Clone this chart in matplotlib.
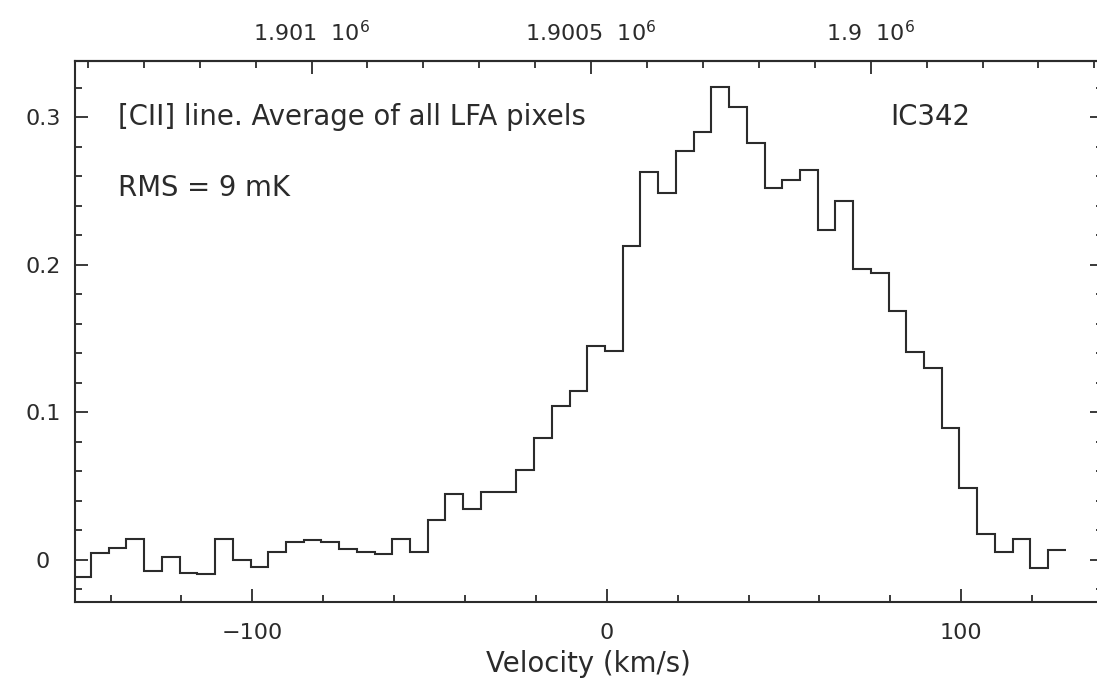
import numpy as np
import matplotlib
matplotlib.use('Agg')
import matplotlib.pyplot as plt
from matplotlib.ticker import FixedLocator, MultipleLocator, FuncFormatter

# channel velocities (km/s) and averaged [CII] intensity (K)
vel = [-148, -143, -138, -133, -128, -123, -118, -113, -108, -103,
       -98, -93, -88, -83, -78, -73, -68, -63, -58, -53,
       -48, -43, -38, -33, -28, -23, -18, -13, -8, -3,
       2, 7, 12, 17, 22, 27, 32, 37, 42, 47,
       52, 57, 62, 67, 72, 77, 82, 87, 92, 97,
       102, 107, 112, 117, 122, 127]
tmb = [-0.0117, 0.0045, 0.0079, 0.0142, -0.0075, 0.0022, -0.0086, -0.0097, 0.0142, 0.0000,
       -0.0045, 0.0054, 0.0120, 0.0134, 0.0120, 0.0077, 0.0054, 0.0043, 0.0142, 0.0056,
       0.0271, 0.0447, 0.0348, 0.0459, 0.0459, 0.0610, 0.0829, 0.1046, 0.1146, 0.1453,
       0.1417, 0.2129, 0.2628, 0.2486, 0.2775, 0.2904, 0.3209, 0.3073, 0.2825, 0.2520,
       0.2576, 0.2644, 0.2235, 0.2432, 0.1973, 0.1944, 0.1690, 0.1408, 0.1300, 0.0893,
       0.0490, 0.0176, 0.0054, 0.0142, -0.0056, 0.0066]

freq_ticks = [1.901e6, 1.9005e6, 1.9e6]   # MHz
title_text = "[CII] line. Average of all LFA pixels"
rms_text = "RMS = 9 mK"
source = "IC342"

F0 = 1900472.0
C = 299792.458

def v2f(v):
    return F0 * (1 - np.asarray(v) / C)

def f2v(f):
    return C * (1 - np.asarray(f) / F0)

plt.rcParams['font.family'] = 'DejaVu Sans'
ink = '#2b2b2b'
fs_tick = 16
fs_text = 19.8

fig = plt.figure(figsize=(10.97, 6.82), dpi=100)
ax = fig.add_axes([0.0681, 0.1173, 0.9374, 0.7933])

vel = np.array(vel)
edges = np.append(vel - 2.5, vel[-1] + 2.5)
ax.stairs(tmb, edges, baseline=None, color=ink, lw=1.5)

ax.set_xlim(-150.1, 140)
ax.set_ylim(-0.0285, 0.3383)

for s in ax.spines.values():
    s.set_linewidth(1.5)
    s.set_color(ink)
ax.spines['right'].set_visible(False)

ax.xaxis.set_major_locator(FixedLocator([-100, 0, 100]))
ax.xaxis.set_minor_locator(MultipleLocator(20))
ax.yaxis.set_major_locator(FixedLocator([0, 0.1, 0.2, 0.3]))
ax.yaxis.set_minor_locator(MultipleLocator(0.02))
ax.yaxis.set_major_formatter(FuncFormatter(lambda y, p: '0' if abs(y) < 1e-9 else f'{y:.1f}'))

ax.tick_params(which='both', direction='in', top=False, right=True, color=ink,
               labelcolor=ink, labelsize=fs_tick)
ax.tick_params(which='major', length=9.4, width=1.3)
ax.tick_params(which='minor', length=5, width=1.3)
ax.tick_params(axis='x', which='major', pad=15)
ax.tick_params(axis='y', which='major', pad=23)
for lab in ax.get_yticklabels():
    lab.set_horizontalalignment('center')

ax.set_xlabel('Velocity (km/s)', fontsize=fs_text, color=ink, labelpad=5)

sec = ax.secondary_xaxis('top', functions=(v2f, f2v))
sec.xaxis.set_major_locator(FixedLocator(freq_ticks))
sec.xaxis.set_minor_locator(MultipleLocator(100))
sec.xaxis.set_major_formatter(FuncFormatter(lambda f, p: f'{f / 1e6:g}  $10^{{6}}$'))
sec.tick_params(which='both', direction='in', color=ink, labelcolor=ink, labelsize=fs_tick)
sec.tick_params(which='major', length=9.4, width=1.3, pad=11)
sec.tick_params(which='minor', length=5, width=1.3)
sec.spines['top'].set_linewidth(1.5)
sec.spines['top'].set_color(ink)

ax.text(-138, 0.30, title_text, fontsize=fs_text, color=ink, va='center', ha='left')
ax.text(-138, 0.2525, rms_text, fontsize=fs_text, color=ink, va='center', ha='left')
ax.text(80, 0.30, source, fontsize=fs_text, color=ink, va='center', ha='left')

fig.savefig('out.png', dpi=100)
